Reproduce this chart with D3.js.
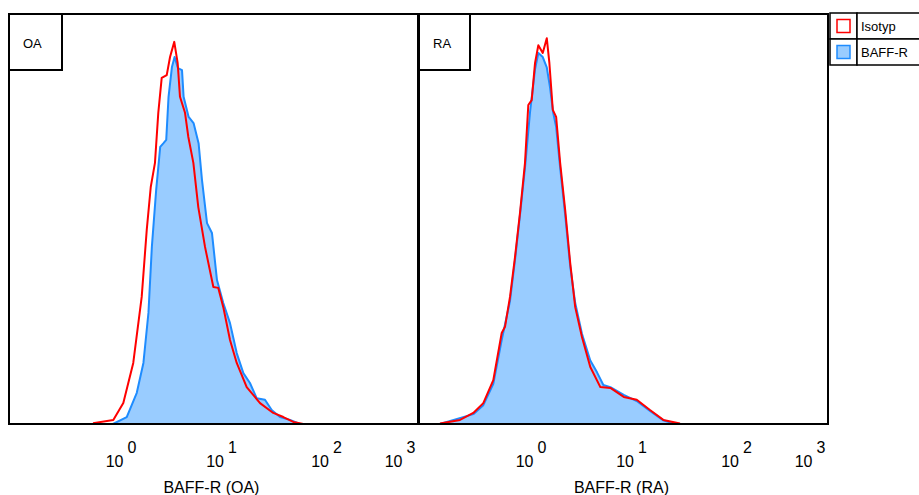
<!DOCTYPE html>
<html>
<head>
<meta charset="utf-8">
<script src="https://cdn.jsdelivr.net/npm/d3@7"></script>
<style>
  html, body { margin: 0; padding: 0; background: #fff; }
  svg { display: block; font-family: "Liberation Sans", Arial, sans-serif; }
</style>
</head>
<body>
<svg id="chart" width="919" height="495"></svg>
<script>
// ---- DATA (x in log10 fluorescence, y in % of mode) ----
const panels = ["OA", "RA"];
const axisTitles = ["BAFF-R (OA)", "BAFF-R (RA)"];
const seriesNames = ["Isotyp", "BAFF-R"];
const tickExponents = [0, 1, 2, 3];

const oaIsotypX = [-0.28,-0.077,0.023,0.122,0.206,0.256,0.296,0.338,0.371,0.405,0.455,0.488,0.530,0.564,0.587,0.637,0.670,0.720,0.769,0.836,0.919,0.968,1.017,1.081,1.145,1.240,1.367,1.493,1.589,1.684,1.779];
const oaIsotypY = [0.2,1.0,5.1,14.9,31.0,47.3,57.8,63.7,75.9,84.4,85.1,89.5,93.2,88.0,79.8,75.9,70.0,63.7,52.9,43.2,33.4,33.2,28.5,20.5,14.9,9.0,5.1,2.7,1.7,0.5,0];
const oaBaffX = [-0.08,0.057,0.157,0.223,0.273,0.307,0.35,0.39,0.423,0.45,0.473,0.507,0.533,0.567,0.607,0.623,0.673,0.722,0.772,0.806,0.856,0.905,0.955,1.017,1.081,1.145,1.208,1.271,1.335,1.414,1.478,1.557,1.652,1.748];
const oaBaffY = [0,1.7,7.6,14.9,27.1,43.2,57.1,67.6,68.5,69.3,79.8,87.1,89.5,86.8,86.3,79.8,74.9,73.4,68.5,59.5,49.0,46.6,35.1,29.5,24.6,17.3,12.4,10.0,6.3,5.9,3.4,1.7,1.0,0];

const raIsotypX = [-0.91,-0.71,-0.577,-0.477,-0.377,-0.293,-0.26,-0.21,-0.16,-0.11,-0.06,-0.027,0.007,0.04,0.073,0.117,0.157,0.183,0.217,0.25,0.29,0.34,0.39,0.44,0.507,0.59,0.69,0.79,0.923,1.05,1.176,1.303,1.462];
const raIsotypY = [0.1,1.0,2.7,5.1,10.7,22.2,23.7,31.0,40.7,51.5,63.7,77.8,79.0,88.0,92.4,90.5,94.1,88.0,76.6,74.9,63.7,52.2,39.3,28.5,21.2,13.9,9.0,8.8,6.6,5.9,3.4,1.0,0.1];
const raBaffX = [-0.91,-0.577,-0.477,-0.377,-0.293,-0.21,-0.16,-0.11,-0.06,-0.01,0.04,0.073,0.117,0.157,0.19,0.22,0.25,0.29,0.34,0.39,0.44,0.507,0.59,0.657,0.72,0.79,0.923,1.05,1.176,1.303,1.414];
const raBaffY = [0,2.4,4.6,9.8,20.5,30.0,40.0,51.0,62.5,76.0,86.5,90.5,89.5,87.0,82.0,76.0,72.5,62.5,51.0,38.5,29.5,22.0,15.5,12.6,9.5,9.0,7.1,5.6,3.2,0.9,0];

const panelData = [
  { iso: d3.zip(oaIsotypX, oaIsotypY), baff: d3.zip(oaBaffX, oaBaffY) },
  { iso: d3.zip(raIsotypX, raIsotypY), baff: d3.zip(raBaffX, raBaffY) }
];

// ---- LAYOUT ----
const svg = d3.select("#chart");
const plotTop = 14, plotBottom = 424, panelW = 409;
const panelLefts = [9, 419];
const red = "#ff0000", blueLine = "#1e8cff", blueFill = "#99ccff";

const x = d3.scaleLinear()
  .domain([-1.12, 0, 1, 2, 3])
  .range([0, 112, 212.5, 317.5, 391]);
const y = d3.scaleLinear().domain([0, 100]).range([plotBottom, plotTop]);

const area = d3.area().x(d => x(d[0])).y0(plotBottom).y1(d => y(d[1]));
const line = d3.line().x(d => x(d[0])).y(d => y(d[1]));

const defs = svg.append("defs");

panels.forEach((name, i) => {
  const g = svg.append("g").attr("transform", `translate(${panelLefts[i]},0)`);
  defs.append("clipPath").attr("id", "clip" + i)
    .append("rect").attr("x", 0).attr("y", plotTop).attr("width", panelW).attr("height", plotBottom - plotTop);

  const plot = g.append("g").attr("clip-path", `url(#clip${i})`);
  plot.append("path").datum(panelData[i].baff)
    .attr("d", area).attr("fill", blueFill).attr("stroke", "none");
  plot.append("path").datum(panelData[i].baff)
    .attr("d", line).attr("fill", "none").attr("stroke", blueLine).attr("stroke-width", 2).attr("stroke-linejoin", "round");
  plot.append("path").datum(panelData[i].iso)
    .attr("d", line).attr("fill", "none").attr("stroke", red).attr("stroke-width", 2).attr("stroke-linejoin", "round");

  // frame
  g.append("rect").attr("x", 0).attr("y", plotTop).attr("width", panelW).attr("height", plotBottom - plotTop)
    .attr("fill", "none").attr("stroke", "#000").attr("stroke-width", 2);

  // panel label box
  const bw = i === 0 ? 53 : 51;
  g.append("rect").attr("x", 0).attr("y", plotTop).attr("width", bw).attr("height", 56)
    .attr("fill", "#fff").attr("stroke", "#000").attr("stroke-width", 2);
  g.append("text").attr("x", 14).attr("y", 48).attr("font-size", 13).attr("fill", "#000").text(name);

  // ticks
  const tg = g.append("g");
  tickExponents.forEach(e => {
    const t = tg.append("text").attr("x", x(e)).attr("y", 467)
      .attr("text-anchor", "middle").attr("font-size", 16).attr("fill", "#000");
    t.append("tspan").text("10");
    t.append("tspan").attr("dx", 4).attr("dy", -14).attr("font-size", 16).text(String(e));
  });

  // axis title
  g.append("text").attr("x", x(0.9)).attr("y", 493).attr("text-anchor", "middle")
    .attr("font-size", 16).attr("fill", "#000").text(axisTitles[i]);
});

// ---- LEGEND ----
const lg = svg.append("g");
const lx = 830, ly = 13, rowH = 26, symW = 27, lw = 95;
seriesNames.forEach((s, k) => {
  const ry = ly + k * rowH;
  lg.append("rect").attr("x", lx).attr("y", ry).attr("width", symW).attr("height", rowH)
    .attr("fill", "#fff").attr("stroke", "#000").attr("stroke-width", 1.5);
  lg.append("rect").attr("x", lx + symW).attr("y", ry).attr("width", lw).attr("height", rowH)
    .attr("fill", "#fff").attr("stroke", "#000").attr("stroke-width", 1.5);
  lg.append("rect").attr("x", lx + 7).attr("y", ry + 6.5).attr("width", 13).attr("height", 13)
    .attr("fill", k === 0 ? "#fff" : blueFill)
    .attr("stroke", k === 0 ? red : blueLine).attr("stroke-width", 1.5);
  lg.append("text").attr("x", lx + symW + 4).attr("y", ry + 18)
    .attr("font-size", 13).attr("fill", "#000").text(s);
});
</script>
</body>
</html>
